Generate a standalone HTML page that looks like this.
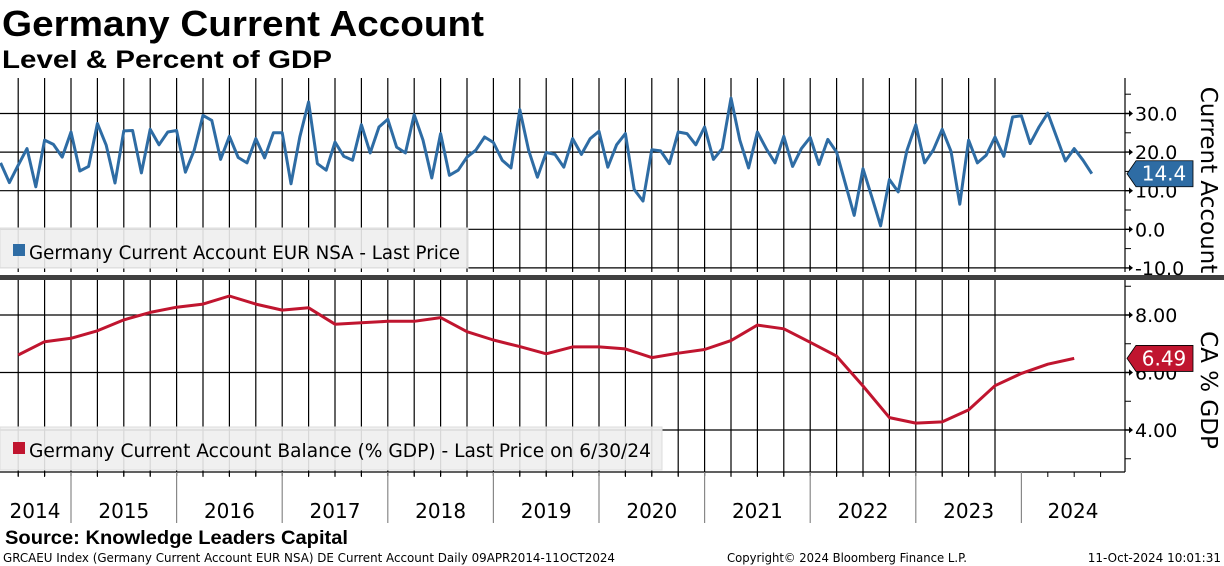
<!DOCTYPE html>
<html><head><meta charset="utf-8"><style>
html,body{margin:0;padding:0;background:#fff;}
svg{display:block;font-family:"DejaVu Sans","Liberation Sans",sans-serif;}
</style></head><body>
<svg id="chart" width="1224" height="566" viewBox="0 0 1224 566" xmlns="http://www.w3.org/2000/svg">
<rect x="0" y="0" width="1224" height="566" fill="#fff"/>
<text x="2" y="36" font-family="Liberation Sans, sans-serif" font-weight="bold" font-size="36" textLength="482" lengthAdjust="spacingAndGlyphs">Germany Current Account</text>
<text x="2" y="68" font-family="Liberation Sans, sans-serif" font-weight="bold" font-size="25" textLength="330" lengthAdjust="spacingAndGlyphs">Level &amp; Percent of GDP</text>
<g id="grid"></g>
<g id="marks"></g>
<g id="axes"></g>
<text x="5" y="544" font-family="Liberation Sans, sans-serif" font-weight="bold" font-size="19" textLength="343" lengthAdjust="spacingAndGlyphs">Source: Knowledge Leaders Capital</text>
<text x="3" y="562" font-size="12" textLength="612" lengthAdjust="spacingAndGlyphs">GRCAEU Index (Germany Current Account EUR NSA) DE Current Account  Daily 09APR2014-11OCT2024</text>
<text x="727" y="562" font-size="12" textLength="240" lengthAdjust="spacingAndGlyphs">Copyright© 2024 Bloomberg Finance L.P.</text>
<text x="1221" y="562" font-size="12" text-anchor="end">11-Oct-2024 10:01:31</text>
</svg>
<script>
// Monthly current account (EUR bn), Apr 2014 .. Aug 2024
const caMonthly = [17.2,12.1,16.6,20.9,11.0,23.1,22.0,18.7,25.2,15.1,16.3,27.4,21.8,12.0,25.5,25.6,14.6,25.9,21.9,25.2,25.6,14.8,20.5,29.5,28.2,18.1,24.1,18.6,17.2,23.5,18.5,25.0,25.0,11.8,23.9,33.0,17.0,15.3,22.6,18.9,17.9,27.1,19.8,26.5,28.5,21.3,19.8,29.7,
23.1,13.3,24.8,14.0,15.3,18.7,20.5,23.9,22.5,17.9,15.9,31.0,20.5,13.5,19.9,19.4,16.1,23.5,19.4,23.5,25.4,16.1,21.9,24.8,10.3,7.3,20.6,20.3,17.0,25.2,24.8,21.9,26.5,18.1,20.9,34.0,23.1,15.9,25.2,20.9,17.2,24.1,16.3,20.9,23.8,16.8,23.3,
20.0,11.8,3.6,15.7,8.4,0.9,12.9,9.7,20.5,27.1,17.2,20.6,25.9,20.2,6.5,23.1,17.2,19.2,23.9,18.9,29.1,29.4,22.2,26.5,30.1,23.9,17.7,20.9,17.9,14.4];
// Quarterly CA % GDP, Q2 2014 .. Q2 2024
const caPctGdp = [6.61,7.07,7.19,7.45,7.83,8.09,8.27,8.38,8.66,8.38,8.17,8.25,7.68,7.73,7.78,7.78,7.91,7.42,7.13,6.90,6.65,6.89,6.89,6.82,6.52,6.67,6.80,7.11,7.65,7.52,7.05,6.57,5.53,4.43,4.24,4.28,4.70,5.54,5.97,6.29,6.49];
const years = ["2014","2015","2016","2017","2018","2019","2020","2021","2022","2023","2024"];
const topTicks = [30,20,10,0,-10];
const botTicks = [8,6,4];
const lastTop = "14.4";
const lastBot = "6.49";

const NS="http://www.w3.org/2000/svg";
const X0=71, MONTH=105.6/12, AXR=1125;
function xMonth(i){return X0 + (i-8)*MONTH;} // i=0 -> Apr 2014 (month end)
function yTop(v){return 229.3 - v*3.86;}
function yBot(v){return 315 + (8-v)*28.75;}
function mk(tag,attrs,parent){const e=document.createElementNS(NS,tag);for(const k in attrs)e.setAttribute(k,attrs[k]);parent.appendChild(e);return e;}
const grid=document.getElementById('grid'),marks=document.getElementById('marks'),axes=document.getElementById('axes');

// vertical quarter grid
for(let q=0;q<40;q++){
  const x=X0-105.6+q*26.4; if(x<5||x>AXR-2) continue;
  const l1=mk('line',{x1:x,y1:78,x2:x,y2:272,stroke:'#000','stroke-width':1.2},grid);
  
  
  const l2=mk('line',{x1:x,y1:280,x2:x,y2:476,stroke:'#000','stroke-width':1.2},grid);
  
  
}
topTicks.forEach(v=>{
  const l=mk('line',{x1:0,y1:yTop(v),x2:AXR,y2:yTop(v),stroke:'#000','stroke-width':1.2},grid);
  
  
});
botTicks.forEach(v=>{
  const l=mk('line',{x1:0,y1:yBot(v),x2:AXR,y2:yBot(v),stroke:'#000','stroke-width':1.2},grid);
  
  
});

// legends
const lg1=mk('rect',{x:0,y:228,width:468,height:40,fill:'#eeeeee','fill-opacity':0.9,stroke:'#ddd'},grid);


const ls1=mk('rect',{x:13,y:244,width:12,height:12,fill:'#2e6ca4'},grid);


const lt1=mk('text',{x:29,y:259,'font-size':19,textLength:431,lengthAdjust:'spacingAndGlyphs'},grid);
lt1.textContent='Germany Current Account EUR NSA - Last Price';


const lg2=mk('rect',{x:0,y:427,width:662,height:43,fill:'#eeeeee','fill-opacity':0.9,stroke:'#ddd'},grid);


const ls2=mk('rect',{x:13,y:442,width:12,height:12,fill:'#c0152f'},grid);


const lt2=mk('text',{x:29,y:457,'font-size':19,textLength:622,lengthAdjust:'spacingAndGlyphs'},grid);
lt2.textContent='Germany Current Account Balance (% GDP) - Last Price on 6/30/24';



// series
const p1=mk('polyline',{points:caMonthly.map((v,i)=>xMonth(i).toFixed(1)+','+yTop(v).toFixed(1)).join(' '),fill:'none',stroke:'#2e6ca4','stroke-width':3,'stroke-linejoin':'round'},marks);


const p2=mk('polyline',{points:caPctGdp.map((v,q)=>xMonth(2+3*q).toFixed(1)+','+yBot(v).toFixed(1)).join(' '),fill:'none',stroke:'#c0152f','stroke-width':3,'stroke-linejoin':'round'},marks);



// separator
const sep=mk('rect',{x:0,y:275,width:1224,height:5,fill:'#404040'},axes);



// right axes
mk('line',{x1:AXR,y1:78,x2:AXR,y2:272,stroke:'#000','stroke-width':1.2},axes);
mk('line',{x1:AXR,y1:280,x2:AXR,y2:472,stroke:'#000','stroke-width':1.2},axes);
mk('line',{x1:0,y1:472,x2:AXR,y2:472,stroke:'#000','stroke-width':1.2},axes);
[35,25,15,5,-5].forEach(v=>mk('line',{x1:AXR,y1:yTop(v),x2:AXR+6,y2:yTop(v),stroke:'#000'},axes));
[9,7,5,3].forEach(v=>mk('line',{x1:AXR,y1:yBot(v),x2:AXR+6,y2:yBot(v),stroke:'#000'},axes));
topTicks.forEach(v=>{
  const y=yTop(v);
  mk('path',{d:`M${AXR} ${y-0.7}h4v-2.5l4 3.2l-4 3.2v-2.5h-4z`,fill:'#000'},axes);
  const t=mk('text',{x:1135,y:y+7,'font-size':19},axes);
  t.textContent=v.toFixed(1);
  
  
});
botTicks.forEach(v=>{
  const y=yBot(v);
  mk('path',{d:`M${AXR} ${y-0.7}h4v-2.5l4 3.2l-4 3.2v-2.5h-4z`,fill:'#000'},axes);
  const t=mk('text',{x:1135,y:y+7,'font-size':19},axes);
  t.textContent=v.toFixed(2);
  
  
});
// last value tags
function tag(y,color,txt,name){
  const g=mk('g',{},axes);
  
  
  mk('path',{d:`M1127 ${y} L1136 ${y-13} H1193 V${y+13} H1136 Z`,fill:color,stroke:'#000','stroke-width':0.8},g);
  const t=mk('text',{x:1164,y:y+7,'font-size':20,fill:'#fff','text-anchor':'middle'},g);
  t.textContent=txt;
}
tag(yTop(caMonthly[caMonthly.length-1]),'#2e6ca4',lastTop,'last-value-tag-top');
tag(yBot(caPctGdp[caPctGdp.length-1]),'#c0152f',lastBot,'last-value-tag-bottom');
// axis titles
const at1=mk('text',{x:0,y:0,'font-size':23,'text-anchor':'middle',transform:'translate(1201,180) rotate(90)'},axes);
at1.textContent='Current Account';


const at2=mk('text',{x:0,y:0,'font-size':23,'text-anchor':'middle',transform:'translate(1201,390) rotate(90)'},axes);
at2.textContent='CA % GDP';



// x axis
for(let q=0;q<44;q++){
  const x=X0-105.6+q*26.4; if(x<5||x>AXR) continue;
  if(q%4===0) continue;
  mk('line',{x1:x,y1:472,x2:x,y2:477,stroke:'#000'},axes);
}
years.forEach((yr,k)=>{
  const xs=X0+(k-1)*105.6;
  if(k>0){
    const l=mk('line',{x1:xs,y1:472,x2:xs,y2:523,stroke:'#888','stroke-width':1.2},axes);
    
    
  }
  const cx = k===0 ? 35 : (k===years.length-1 ? 1073 : xs+52.8);
  const t=mk('text',{x:cx,y:518,'font-size':20,'text-anchor':'middle'},axes);
  t.textContent=yr;
  
  
});
</script>
</body></html>
